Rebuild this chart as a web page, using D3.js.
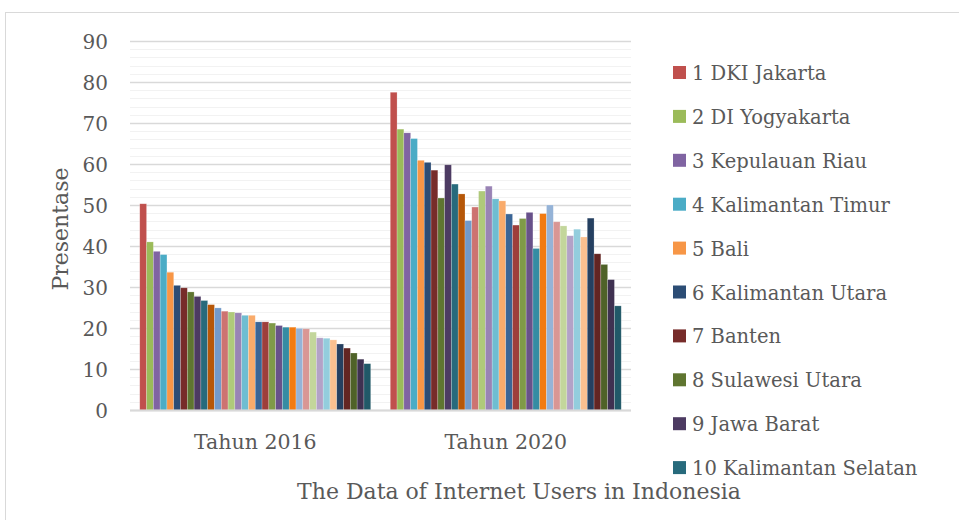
<!DOCTYPE html>
<html><head><meta charset="utf-8">
<script src="https://cdn.jsdelivr.net/npm/d3@7"></script>
<style>
html,body{margin:0;padding:0;background:#fff;}
svg{display:block;}
text{font-family:"DejaVu Serif",serif;fill:#595959;}
</style></head>
<body><svg id="c" width="959" height="520"></svg>
<script>
const groups = ["Tahun 2016", "Tahun 2020"];
const provinces = ["1 DKI Jakarta","2 DI Yogyakarta","3 Kepulauan Riau","4 Kalimantan Timur","5 Bali",
  "6 Kalimantan Utara","7 Banten","8 Sulawesi Utara","9 Jawa Barat","10 Kalimantan Selatan",
  "11","12","13","14","15","16","17","18","19","20","21","22","23","24","25","26","27","28","29","30","31","32","33","34"];
const values2016 = [50.3,41.0,38.7,37.9,33.6,30.4,29.8,28.8,27.7,26.7,25.7,24.9,24.1,23.9,23.7,23.1,23.1,
  21.5,21.5,21.2,20.6,20.2,20.2,19.9,19.8,19.0,17.6,17.5,17.1,16.1,15.1,13.9,12.4,11.3];
const values2020 = [77.5,68.5,67.6,66.2,60.9,60.4,58.5,51.7,59.8,55.1,52.7,46.2,49.5,53.4,54.6,51.5,51.0,
  47.8,45.1,46.7,48.2,39.4,47.9,50.0,45.9,44.9,42.5,44.1,42.2,46.8,38.1,35.5,31.8,25.4];
const colors = ["#C0504D","#9BBB59","#8064A2","#4BACC6","#F79646","#2C4D75","#772C2A","#5F7530","#4D3B62","#276A7C",
  "#B65708","#729ACA","#CD7371","#AFC97A","#9983B5","#6FBDD1","#F9AB6B","#3A6596","#9E3E3B","#7F9A48",
  "#68518A","#358CA3","#F27B12","#95B3D7","#D99694","#C3D69B","#B3A2C7","#93CDDD","#FAC090","#254061",
  "#632523","#4F6228","#3F3151","#215968"];
const yTicks = [0,10,20,30,40,50,60,70,80,90];
const legendCount = 10;

const svg = d3.select("#c");
// chart border
svg.append("rect").attr("x",5.5).attr("y",12.5).attr("width",960).attr("height",520)
  .attr("fill","none").attr("stroke","#D9D9D9");

const pLeft=130, pRight=631, pTop=41, pBottom=410;
const y = d3.scaleLinear().domain([0,90]).range([pBottom,pTop]);
const x0 = d3.scaleBand().domain(groups).range([pLeft,pRight]).paddingInner(0.078).paddingOuter(0.039);
const x1 = d3.scaleBand().domain(d3.range(provinces.length)).range([0,x0.bandwidth()]).padding(0);

// minor gridlines
const minor = d3.range(0,91,2).filter(v=>v%10!==0);
svg.append("g").selectAll("line").data(minor).join("line")
  .attr("x1",pLeft).attr("x2",pRight).attr("y1",d=>Math.round(y(d))+0.5).attr("y2",d=>Math.round(y(d))+0.5)
  .attr("stroke","#F2F2F2").attr("stroke-width",1);
// major gridlines via axis
const yAxis = d3.axisLeft(y).tickValues(yTicks).tickSize(-(pRight-pLeft)).tickPadding(22).tickFormat(d3.format("d"));
const gy = svg.append("g").attr("transform",`translate(${pLeft},0)`).call(yAxis);
gy.select(".domain").remove();
gy.selectAll(".tick line").attr("stroke","#D9D9D9").attr("stroke-width",1.5);
gy.selectAll(".tick text").style("font-size","20px").attr("fill","#595959").attr("dy","0.35em");

// bars
const data = groups.map((g,i)=>({g, vals: i===0?values2016:values2020}));
const gg = svg.append("g").selectAll("g").data(data).join("g")
  .attr("transform",d=>`translate(${x0(d.g)},0)`);
gg.selectAll("rect").data(d=>d.vals.map((v,i)=>({v,i}))).join("rect")
  .attr("x",d=>x1(d.i)).attr("width",x1.bandwidth())
  .attr("y",d=>y(d.v)).attr("height",d=>y(0)-y(d.v))
  .attr("fill",d=>colors[d.i]).attr("stroke","rgba(255,255,255,0.35)").attr("stroke-width",0.6);

// baseline
svg.append("line").attr("x1",pLeft).attr("x2",pRight).attr("y1",pBottom+0.5).attr("y2",pBottom+0.5)
  .attr("stroke","#D9D9D9").attr("stroke-width",2);

// x axis labels
const xAxis = d3.axisBottom(x0).tickSize(0).tickPadding(0);
const gx = svg.append("g").attr("transform",`translate(0,${pBottom})`).call(xAxis);
gx.select(".domain").remove();
gx.selectAll(".tick text").style("font-size","20.5px").attr("fill","#595959").attr("y",39).attr("dy",0);

// y title
svg.append("text").attr("transform","translate(68,229) rotate(-90)").attr("text-anchor","middle")
  .style("font-size","22px").text("Presentase");

// title
svg.append("text").attr("x",519).attr("y",499).attr("text-anchor","middle")
  .style("font-size","22px").text("The Data of Internet Users in Indonesia");

// legend
const lg = svg.append("g").selectAll("g").data(provinces.slice(0,legendCount)).join("g")
  .attr("transform",(d,i)=>`translate(673,${66+i*43.9})`);
lg.append("rect").attr("width",13).attr("height",13).attr("fill",(d,i)=>colors[i]);
lg.append("text").attr("x",19).attr("y",14).style("font-size","19.5px").text(d=>d);
</script></body></html>
